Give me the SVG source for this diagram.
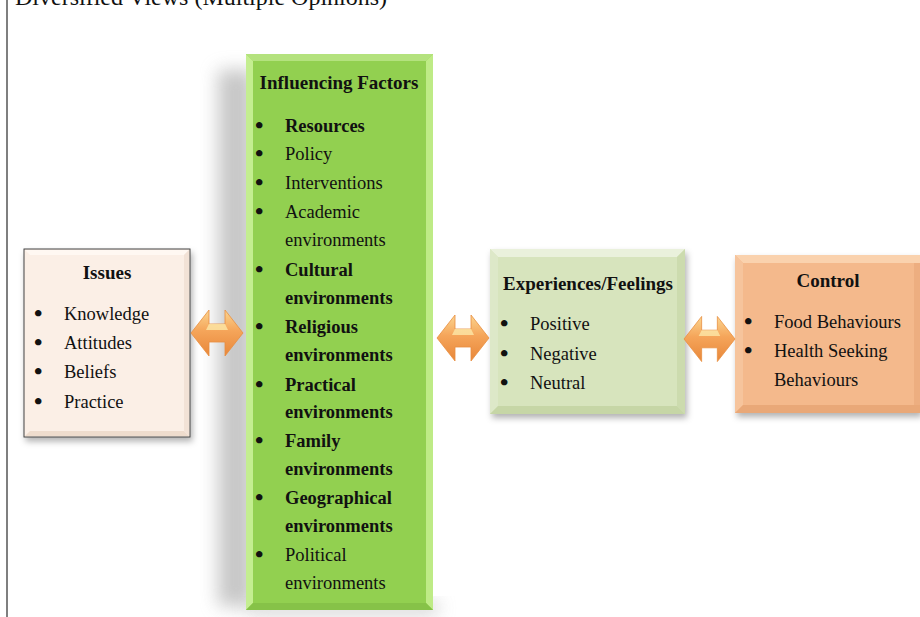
<svg xmlns="http://www.w3.org/2000/svg" width="920" height="617" viewBox="0 0 920 617">
<defs>
<style>
text{font-family:"Liberation Serif","Times New Roman",serif;fill:#111}
.t{font-size:19px;font-weight:bold}
.i{font-size:18.5px}
.b{font-weight:bold}
.bul{font-size:24px;font-weight:bold}
</style>
<filter id="sh" x="-20%" y="-20%" width="140%" height="140%">
<feDropShadow dx="2" dy="4" stdDeviation="3" flood-color="#000" flood-opacity="0.3"/>
</filter>
<filter id="blur" x="-50%" y="-50%" width="200%" height="200%">
<feGaussianBlur stdDeviation="9"/>
</filter>
<linearGradient id="arr" x1="0" y1="0" x2="0" y2="1">
<stop offset="0" stop-color="#FBD58F"/>
<stop offset="0.45" stop-color="#F5A55A"/>
<stop offset="1" stop-color="#E8873A"/>
</linearGradient>
<symbol id="darrow" viewBox="0 0 52 46" overflow="visible">
<path d="M0,23 L18,0 L18,14 L34,14 L34,0 L52,23 L34,46 L34,32 L18,32 L18,46 Z" fill="url(#arr)" stroke="#E88E3F" stroke-width="0.8"/>
<path d="M18,14 L34,14 L37,20 L15,20 Z" fill="#FCE7A8" opacity="0.8"/>
</symbol>
</defs>
<rect width="920" height="617" fill="#fff"/>
<line x1="7" y1="0" x2="7" y2="617" stroke="#555" stroke-width="1.5"/>
<text x="15" y="5" style="font-size:24px">Diversified Views (Multiple Opinions)</text>

<g id="issues">
<rect x="24" y="249" width="166" height="188" fill="#FBEFE6" stroke="#444" stroke-width="1" filter="url(#sh)"/>
<polygon points="25,250 189,250 184,255 30,255" fill="#FFF8F2"/>
<polygon points="25,436 189,436 184,431 30,431" fill="#EEDCCD"/>
<polygon points="189,250 189,436 184,431 184,255" fill="#F2E2D6"/>
<text x="107" y="279" class="t" text-anchor="middle">Issues</text>
<g class="i">
<text x="34" y="321" class="bul">•</text><text x="64" y="320">Knowledge</text>
<text x="34" y="350" class="bul">•</text><text x="64" y="349">Attitudes</text>
<text x="34" y="379" class="bul">•</text><text x="64" y="378">Beliefs</text>
<text x="34" y="409" class="bul">•</text><text x="64" y="408">Practice</text>
</g>
</g>

<g id="influencing">
<rect x="218" y="70" width="36" height="536" fill="#9a9a9a" filter="url(#blur)" opacity="0.55"/>
<rect x="250" y="602" width="188" height="12" fill="#aaa" filter="url(#blur)" opacity="0.6"/>
<rect x="246" y="54" width="187" height="556" fill="#92D050"/>
<polygon points="246,54 433,54 426,61 253,61" fill="#B4E27E"/>
<polygon points="246,54 253,61 253,603 246,610" fill="#C4EE90"/>
<polygon points="433,54 426,61 426,603 433,610" fill="#BEEB86"/>
<polygon points="246,610 433,610 426,603 253,603" fill="#86C248"/>
<text x="339" y="89" class="t" text-anchor="middle">Influencing Factors</text>
<g class="i">
<text x="255" y="133" class="bul">•</text><text x="285" y="132" class="b">Resources</text>
<text x="255" y="161" class="bul">•</text><text x="285" y="160">Policy</text>
<text x="255" y="190" class="bul">•</text><text x="285" y="189">Interventions</text>
<text x="255" y="219" class="bul">•</text><text x="285" y="218">Academic</text>
<text x="285" y="246">environments</text>
<text x="255" y="277" class="bul">•</text><text x="285" y="276" class="b">Cultural</text>
<text x="285" y="304" class="b">environments</text>
<text x="255" y="334" class="bul">•</text><text x="285" y="333" class="b">Religious</text>
<text x="285" y="361" class="b">environments</text>
<text x="255" y="392" class="bul">•</text><text x="285" y="391" class="b">Practical</text>
<text x="285" y="418" class="b">environments</text>
<text x="255" y="448" class="bul">•</text><text x="285" y="447" class="b">Family</text>
<text x="285" y="475" class="b">environments</text>
<text x="255" y="505" class="bul">•</text><text x="285" y="504" class="b">Geographical</text>
<text x="285" y="532" class="b">environments</text>
<text x="255" y="562" class="bul">•</text><text x="285" y="561">Political</text>
<text x="285" y="589">environments</text>
</g>
</g>

<g id="experiences">
<rect x="490" y="249" width="195" height="165" fill="#D7E4BD" filter="url(#sh)"/>
<polygon points="490,249 685,249 677,257 498,257" fill="#EAF1DC"/>
<polygon points="490,249 498,257 498,406 490,414" fill="#DDE8C8"/>
<polygon points="685,249 677,257 677,406 685,414" fill="#CCDBAE"/>
<polygon points="490,414 685,414 677,406 498,406" fill="#C6D6A6"/>
<text x="588" y="290" class="t" text-anchor="middle">Experiences/Feelings</text>
<g class="i">
<text x="500" y="331" class="bul">•</text><text x="530" y="330">Positive</text>
<text x="500" y="361" class="bul">•</text><text x="530" y="360">Negative</text>
<text x="500" y="390" class="bul">•</text><text x="530" y="389">Neutral</text>
</g>
</g>

<g id="control">
<rect x="735" y="255" width="185" height="158" fill="#F4B98C" filter="url(#sh)"/>
<polygon points="735,255 920,255 920,263 743,263" fill="#FAD2AE"/>
<polygon points="735,255 743,263 743,405 735,413" fill="#F6C49C"/>
<polygon points="920,263 914,263 914,405 920,405" fill="#EDAE80"/>
<polygon points="735,413 920,413 920,405 743,405" fill="#E9A878"/>
<text x="828" y="287" class="t" text-anchor="middle">Control</text>
<g class="i">
<text x="744" y="329" class="bul">•</text><text x="774" y="328">Food Behaviours</text>
<text x="744" y="358" class="bul">•</text><text x="774" y="357">Health Seeking</text>
<text x="774" y="386">Behaviours</text>
</g>
</g>

<g id="connectors">
<use href="#darrow" x="191" y="310" width="52" height="46"/>
<use href="#darrow" x="436" y="315" width="54" height="46"/>
<use href="#darrow" x="684" y="316" width="51" height="46"/>
</g>
</svg>
